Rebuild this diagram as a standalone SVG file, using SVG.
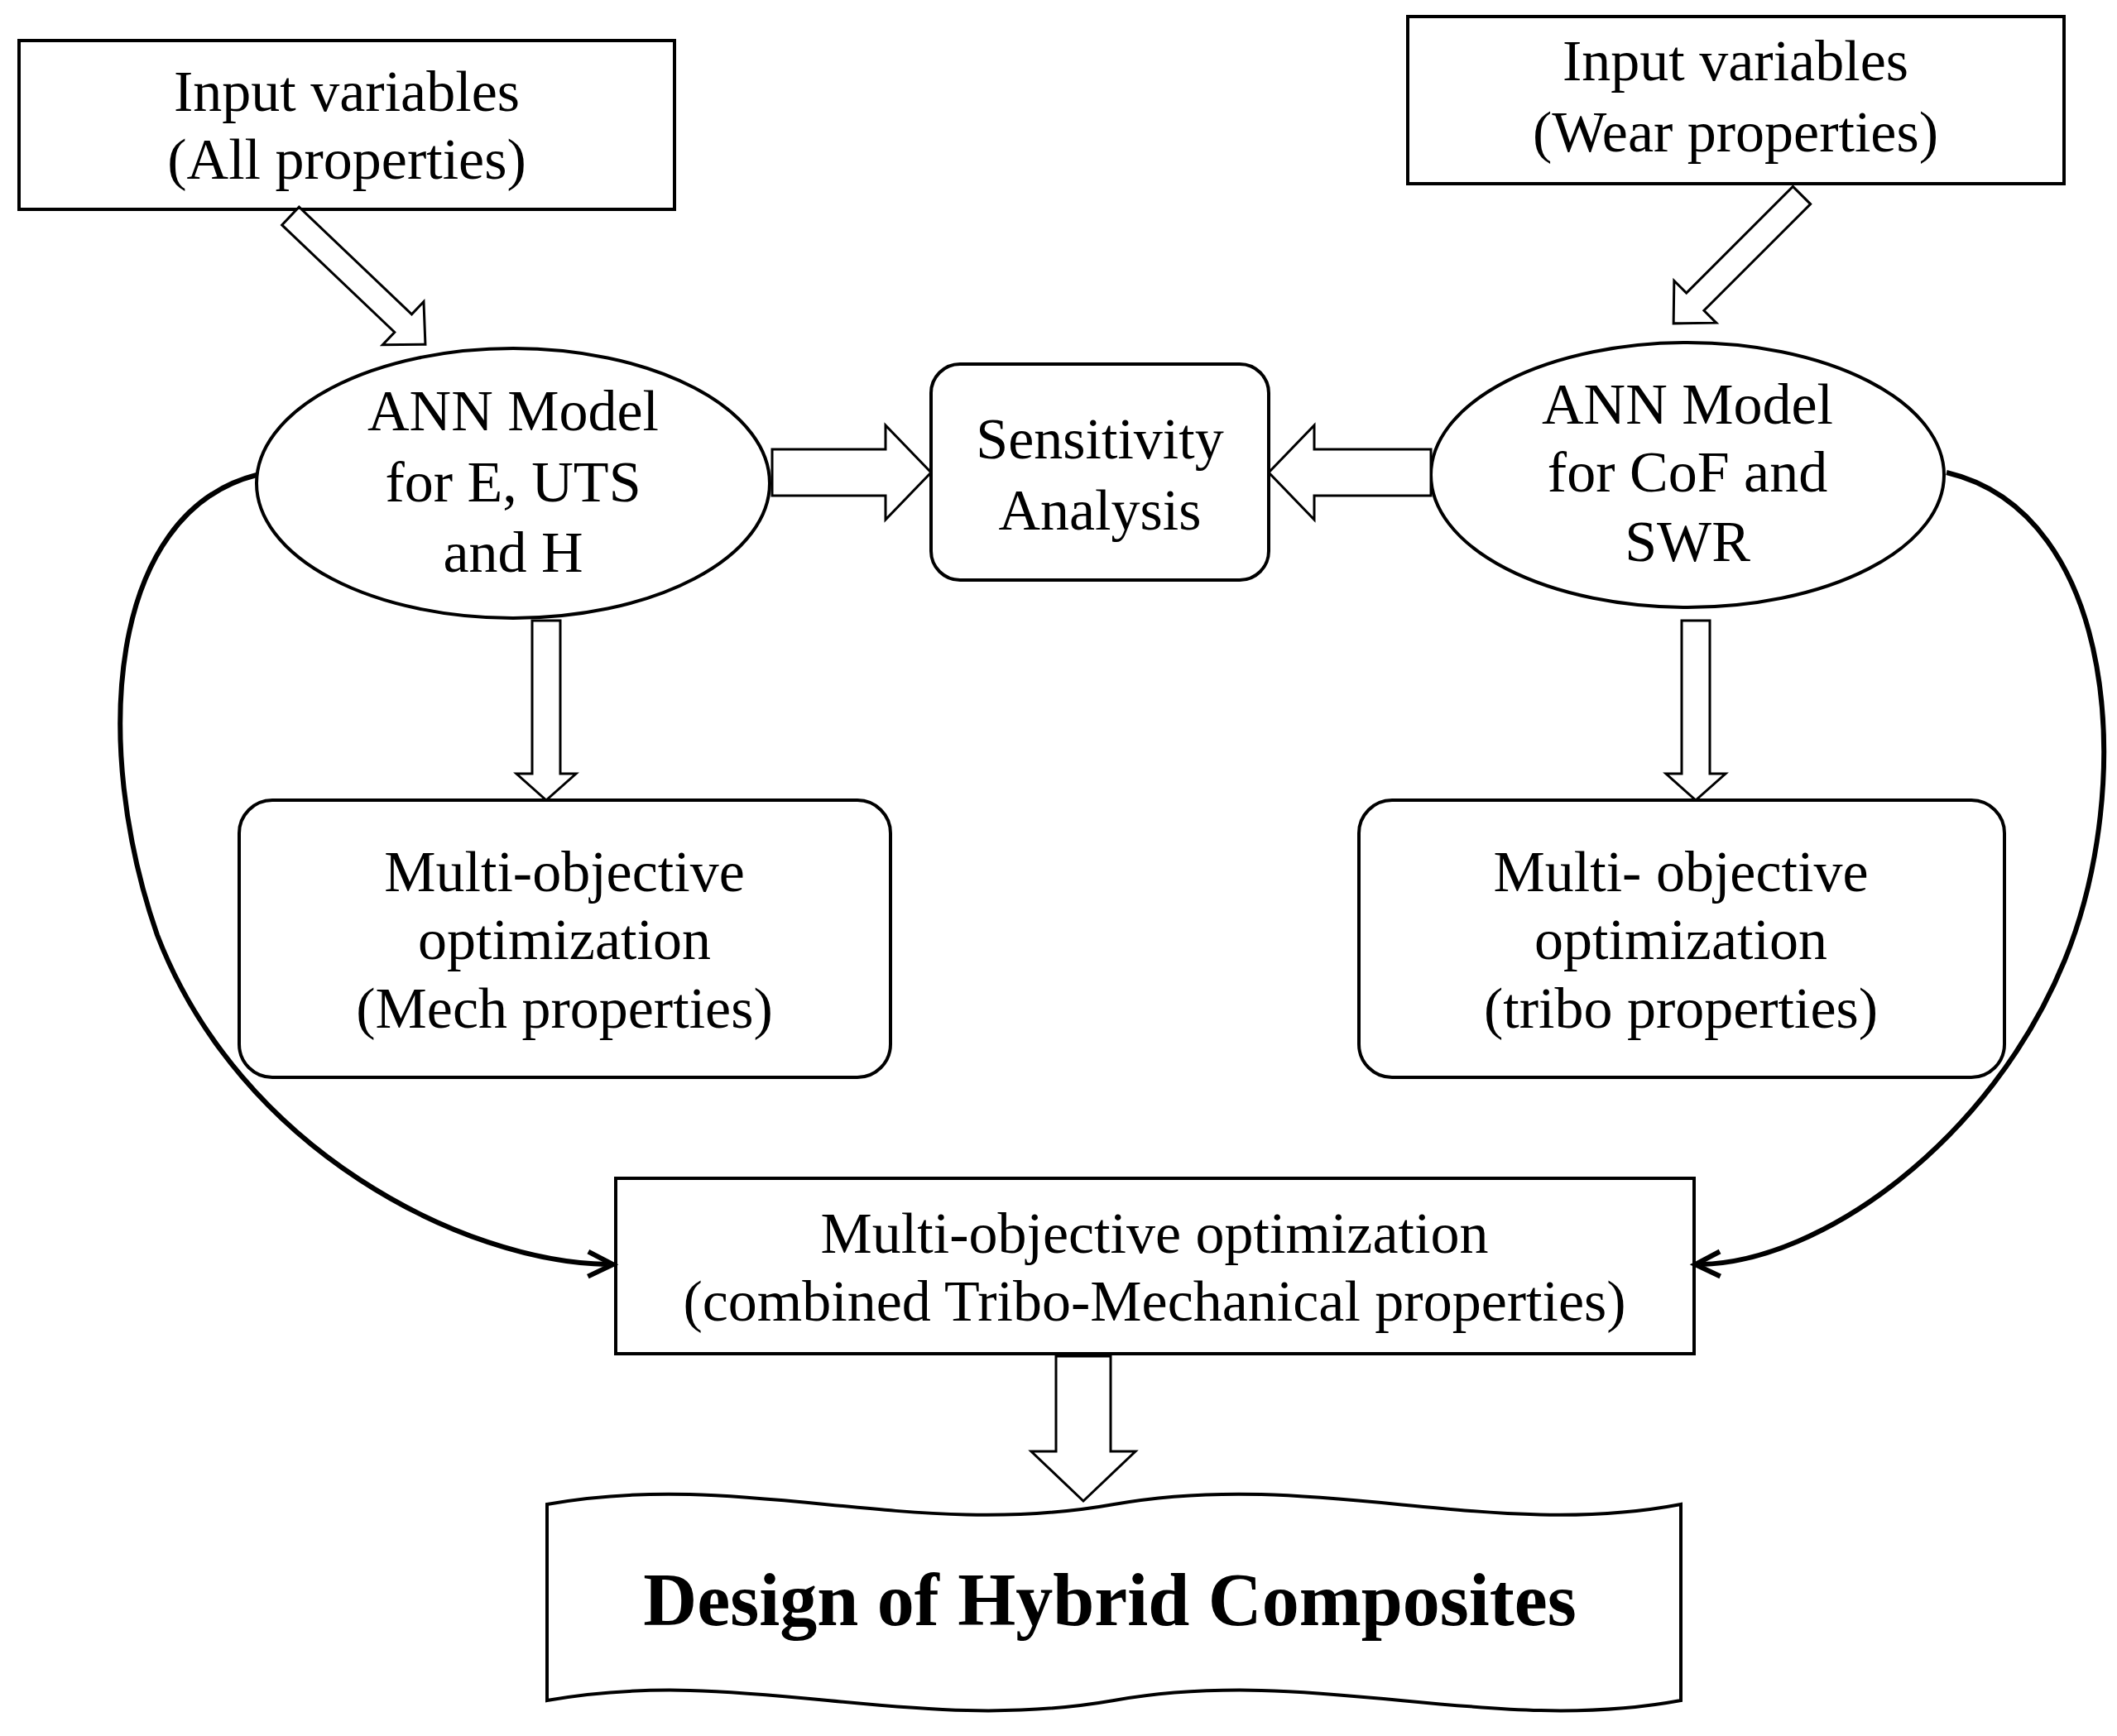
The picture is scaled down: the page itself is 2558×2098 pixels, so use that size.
<svg xmlns="http://www.w3.org/2000/svg" width="2558" height="2098" viewBox="0 0 2558 2098">
<style>
.b{fill:#fff;stroke:#000;stroke-width:4}
.a{fill:#fff;stroke:#000;stroke-width:3}
.t{font-family:"Liberation Serif",serif;font-size:70px;text-anchor:middle;fill:#000}
.c{fill:none;stroke:#000;stroke-width:6}
</style>
<defs>
<marker id="m" viewBox="0 0 10 10" refX="9" refY="5" markerWidth="6" markerHeight="6" orient="auto" markerUnits="userSpaceOnUse" style="overflow:visible">
<path d="M0,0 L10,5 L0,10" fill="none" stroke="#000" stroke-width="2" transform="translate(-30,-20) scale(5)"/>
</marker>
</defs>
<rect width="2558" height="2098" fill="#fff"/>
<g id="in1"><rect class="b" x="23" y="49" width="792" height="204"/>
<text class="t" x="419" y="134">Input variables</text><text class="t" x="419" y="216">(All properties)</text></g>
<g id="in2"><rect class="b" x="1701" y="20" width="793" height="202"/>
<text class="t" x="2097" y="97">Input variables</text><text class="t" x="2097" y="183">(Wear  properties)</text></g>
<g id="ann1"><ellipse class="b" cx="620" cy="584" rx="310" ry="163"/>
<text class="t" x="620" y="520">ANN Model</text><text class="t" x="620" y="606">for E, UTS</text><text class="t" x="620" y="691">and H</text></g>
<g id="sens"><rect class="b" x="1125" y="440" width="408" height="261" rx="35"/>
<text class="t" x="1329" y="554">Sensitivity</text><text class="t" x="1329" y="640">Analysis</text></g>
<g id="ann2"><ellipse class="b" cx="2039" cy="574" rx="310" ry="160"/>
<text class="t" x="2039" y="512">ANN Model</text><text class="t" x="2039" y="594">for CoF and</text><text class="t" x="2039" y="678">SWR</text></g>
<g id="mech"><rect class="b" x="289" y="967" width="787" height="335" rx="40"/>
<text class="t" x="682" y="1077">Multi-objective</text><text class="t" x="682" y="1159">optimization</text><text class="t" x="682" y="1242">(Mech properties)</text></g>
<g id="tribo"><rect class="b" x="1642" y="967" width="780" height="335" rx="40"/>
<text class="t" x="2031" y="1077">Multi- objective</text><text class="t" x="2031" y="1159">optimization</text><text class="t" x="2031" y="1242">(tribo properties)</text></g>
<g id="comb"><rect class="b" x="744" y="1424" width="1303" height="212"/>
<text class="t" x="1395" y="1514">Multi-objective optimization</text><text class="t" x="1395" y="1596">(combined  Tribo-Mechanical properties)</text></g>
<g id="design"><path class="b" d="M661,1818 C900,1775 1100,1862 1346,1818 C1590,1775 1800,1862 2031,1818 L2031,2055 C1800,2098 1590,2012 1346,2055 C1100,2098 900,2012 661,2055 Z"/>
<text x="1341" y="1964" style="font-family:'Liberation Serif',serif;font-size:90px;font-weight:bold;text-anchor:middle">Design of Hybrid  Composites</text></g>
<g id="connectors">
<polygon class="a" transform="translate(351,261) rotate(43.6)" points="0,-15 188,-15 188,-36 225,0 188,36 188,15 0,15"/>
<polygon class="a" transform="translate(2177,236) rotate(135)" points="0,-15 182,-15 182,-36 219,0 182,36 182,15 0,15"/>
<polygon class="a" transform="translate(933,571)" points="0,-28 137,-28 137,-57 192,0 137,57 137,28 0,28"/>
<polygon class="a" transform="translate(1729,571) rotate(180)" points="0,-28 141,-28 141,-57 196,0 141,57 141,28 0,28"/>
<polygon class="a" transform="translate(660,750) rotate(90)" points="0,-17 185,-17 185,-36 217,0 185,36 185,17 0,17"/>
<polygon class="a" transform="translate(2049,750) rotate(90)" points="0,-17 185,-17 185,-36 217,0 185,36 185,17 0,17"/>
<polygon class="a" transform="translate(1309,1639) rotate(90)" points="0,-33 115,-33 115,-63 175,0 115,63 115,33 0,33"/>
<path class="c" marker-end="url(#m)" d="M310,574 C130,620 110,900 190,1130 C290,1390 560,1525 734,1528"/>
<path class="c" marker-end="url(#m)" d="M2352,571 C2560,620 2580,950 2495,1160 C2405,1380 2200,1525 2055,1528"/>
</g>
</svg>
